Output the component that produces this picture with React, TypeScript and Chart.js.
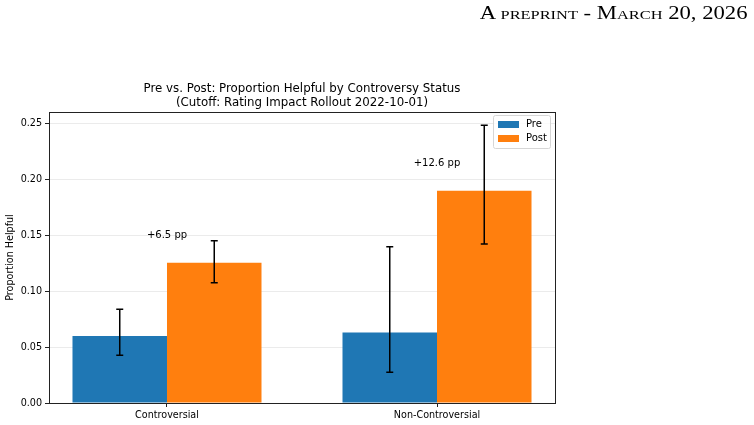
import React, { useEffect, useRef } from "react";
import { Chart, registerables } from "chart.js";

Chart.register(...registerables);

const categories = ["Controversial", "Non-Controversial"];
const preValues = [0.0598, 0.0631];
const postValues = [0.1253, 0.1896];
const preErrLow = [0.0426, 0.0274];
const preErrHigh = [0.0837, 0.1395];
const postErrLow = [0.1074, 0.1420];
const postErrHigh = [0.1449, 0.2482];
const diffLabels = ["+6.5 pp", "+12.6 pp"];
const yTicks = [0, 0.05, 0.1, 0.15, 0.2, 0.25];
const seriesNames = ["Pre", "Post"];
const titleLines = [
  "Pre vs. Post: Proportion Helpful by Controversy Status",
  "(Cutoff: Rating Impact Rollout 2022-10-01)",
];
const yAxisTitle = "Proportion Helpful";
const headerText = "A preprint - March 20, 2026";

const BLUE = "#1f77b4";
const ORANGE = "#ff7f0e";
const FONT = "'DejaVu Sans', sans-serif";

export default function App() {
  const canvasRef = useRef<HTMLCanvasElement | null>(null);

  useEffect(() => {
    const canvas = canvasRef.current;
    if (!canvas) return;

    const overlay = {
      id: "overlay",
      afterDatasetsDraw(chart: any) {
        const ctx = chart.ctx;
        const ys = chart.scales.y;
        const xs = chart.scales.x;
        const errs = [
          [preErrLow, preErrHigh],
          [postErrLow, postErrHigh],
        ];
        ctx.save();
        // error bars
        ctx.strokeStyle = "#000";
        ctx.lineWidth = 1.5;
        for (let d = 0; d < 2; d++) {
          const meta = chart.getDatasetMeta(d);
          meta.data.forEach((bar: any, j: number) => {
            const x = bar.x;
            const y1 = ys.getPixelForValue(errs[d][0][j]);
            const y2 = ys.getPixelForValue(errs[d][1][j]);
            ctx.beginPath();
            ctx.moveTo(x, y1);
            ctx.lineTo(x, y2);
            ctx.moveTo(x - 3.5, y1);
            ctx.lineTo(x + 3.5, y1);
            ctx.moveTo(x - 3.5, y2);
            ctx.lineTo(x + 3.5, y2);
            ctx.stroke();
          });
        }
        // annotations
        ctx.fillStyle = "#000";
        ctx.font = `10px ${FONT}`;
        ctx.textAlign = "center";
        ctx.textBaseline = "middle";
        categories.forEach((_, i) => {
          const yv = Math.max(preValues[i], postValues[i]) + 0.025;
          ctx.fillText(diffLabels[i], xs.getPixelForValue(i), ys.getPixelForValue(yv) + 1);
        });
        ctx.restore();
      },
      afterDraw(chart: any) {
        const ctx = chart.ctx;
        const a = chart.chartArea;
        ctx.save();
        // spines
        ctx.strokeStyle = "#222";
        ctx.lineWidth = 1;
        ctx.strokeRect(Math.round(a.left) + 0.5, Math.round(a.top) + 0.5, Math.round(a.right - a.left), Math.round(a.bottom - a.top));
        // title
        ctx.fillStyle = "#000";
        ctx.font = `11.8px ${FONT}`;
        ctx.textAlign = "center";
        ctx.textBaseline = "alphabetic";
        const cx = (a.left + a.right) / 2;
        ctx.fillText(titleLines[0], cx, 92);
        ctx.fillText(titleLines[1], cx, 106);
        // y axis title
        ctx.save();
        ctx.translate(10, (a.top + a.bottom) / 2);
        ctx.rotate(-Math.PI / 2);
        ctx.font = `9.6px ${FONT}`;
        ctx.textAlign = "center";
        ctx.textBaseline = "middle";
        ctx.fillText(yAxisTitle, 0, 0);
        ctx.restore();
        // legend
        const lx = a.right - 62;
        const ly = a.top + 3;
        const lw = 57;
        const lh = 33;
        ctx.fillStyle = "rgba(255,255,255,0.8)";
        ctx.strokeStyle = "#d6d6d6";
        ctx.lineWidth = 1;
        ctx.beginPath();
        (ctx as any).roundRect(lx + 0.5, ly + 0.5, lw, lh, 2);
        ctx.fill();
        ctx.stroke();
        const colors = [BLUE, ORANGE];
        ctx.font = `10px ${FONT}`;
        ctx.textAlign = "left";
        ctx.textBaseline = "middle";
        seriesNames.forEach((name, i) => {
          const ry = ly + 6 + i * 14;
          ctx.fillStyle = colors[i];
          ctx.fillRect(lx + 5, ry, 21, 7);
          ctx.fillStyle = "#000";
          ctx.fillText(name, lx + 33, ry + 3.5);
        });
        ctx.restore();
      },
    };

    const chart = new Chart(canvas, {
      type: "bar",
      data: {
        datasets: [
          {
            label: seriesNames[0],
            data: categories.map((_, i) => ({ x: i, y: preValues[i] })),
            backgroundColor: BLUE,
            borderWidth: 0,
          },
          {
            label: seriesNames[1],
            data: categories.map((_, i) => ({ x: i, y: postValues[i] })),
            backgroundColor: ORANGE,
            borderWidth: 0,
          },
        ],
      },
      options: {
        responsive: false,
        animation: false,
        events: [],
        layout: { padding: { top: 112, right: 199, left: 0, bottom: 0 } },
        datasets: { bar: { categoryPercentage: 0.7, barPercentage: 1.0 } },
        plugins: {
          legend: { display: false },
          title: { display: false },
          tooltip: { enabled: false },
        },
        scales: {
          x: {
            type: "linear",
            min: -0.437,
            max: 1.437,
            offset: false,
            afterBuildTicks: (scale: any) => {
              scale.ticks = categories.map((_, i) => ({ value: i }));
            },
            afterFit: (scale: any) => {
              scale.height = 22;
            },
            ticks: {
              callback: (v: any) => categories[Math.round(Number(v))] ?? "",
              color: "#000",
              font: { family: FONT, size: 9.6 },
              padding: 3,
              maxRotation: 0,
              autoSkip: false,
            },
            grid: {
              offset: false,
              drawOnChartArea: false,
              tickLength: 4,
              tickColor: "#222",
            },
            border: { color: "#222", width: 1 },
          },
          y: {
            type: "linear",
            min: 0,
            max: 0.26,
            afterBuildTicks: (scale: any) => {
              scale.ticks = yTicks.map((v) => ({ value: v }));
            },
            afterFit: (scale: any) => {
              scale.width = 49;
            },
            ticks: {
              callback: (v: any) => Number(v).toFixed(2),
              color: "#000",
              font: { family: FONT, size: 9.6 },
              padding: 3,
            },
            grid: {
              color: "#ebebeb",
              lineWidth: 1,
              tickLength: 4,
              tickColor: "#222",
            },
            border: { color: "#222", width: 1 },
          },
        },
      },
      plugins: [overlay],
    } as any);

    return () => chart.destroy();
  }, []);

  return (
    <div style={{ position: "fixed", left: 0, top: 0, width: 754, height: 425, background: "#fff" }}>
      <canvas ref={canvasRef} width={754} height={425} style={{ display: "block" }} />
      <div
        style={{
          position: "absolute",
          right: 6,
          top: 3,
          fontFamily: "'Liberation Serif', serif",
          fontSize: 18,
          fontVariant: "small-caps",
          color: "#000",
          whiteSpace: "nowrap",
          transform: "scaleX(1.26)",
          transformOrigin: "right top",
        }}
      >
        {headerText}
      </div>
    </div>
  );
}
